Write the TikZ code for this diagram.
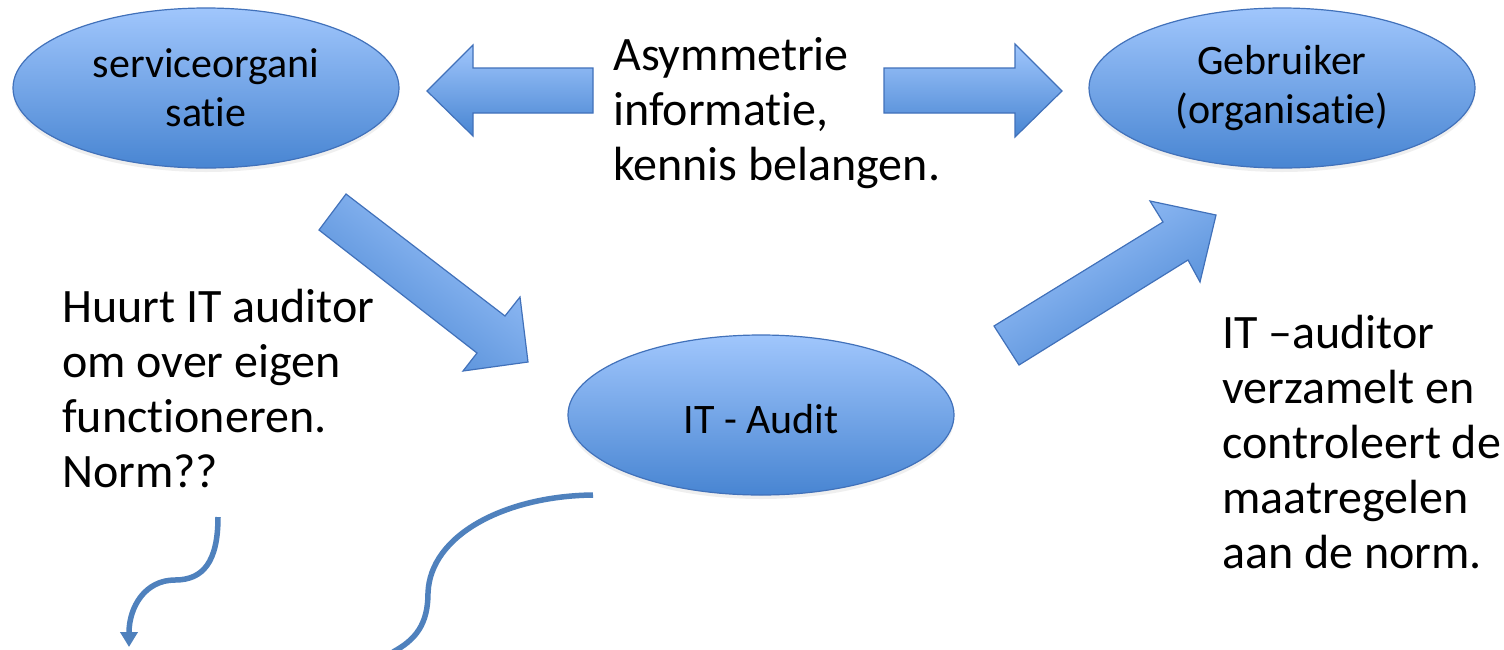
\documentclass[tikz,border=0pt]{standalone}
\usepackage{fontspec}
\setmainfont{Carlito}[Ligatures={NoCommon}]
\usetikzlibrary{shapes.geometric,arrows.meta,shadows}
\definecolor{lightb}{RGB}{160,198,252}
\definecolor{darkb}{RGB}{72,133,210}
\definecolor{edgeb}{RGB}{65,113,186}
\definecolor{curveb}{RGB}{79,129,189}
\tikzset{
 oval/.style={ellipse, draw=edgeb, line width=1.2pt, top color=lightb, bottom color=darkb,
   minimum width=386pt, minimum height=160pt, inner sep=0pt, align=center,
   font=\fontsize{42}{49}\selectfont, execute at begin node={\rule{0pt}{38pt}},
   drop shadow={opacity=0.12, shadow xshift=0pt, shadow yshift=-4pt}},
 blockarrow/.style={draw=edgeb, line width=1.2pt, line join=miter, top color=lightb, bottom color=darkb},
 txt/.style={align=left, anchor=base west, inner sep=0pt, font=\fontsize{48}{55}\selectfont},
 curve/.style={draw=curveb, line width=5.5pt},
}
\begin{document}
\begin{tikzpicture}[x=1pt,y=-1pt]
\useasboundingbox (0,0) rectangle (1504,649);
\fill[white] (0,0) rectangle (1504,649);

% ellipses
\node[oval] (svc) at (206,88) {serviceorgani\\satie};
\node[oval] (geb) at (1282,88) {Gebruiker\\(organisatie)};
\node[oval] (ita) at (761,415) {IT - Audit};

% texts (anchor = baseline of last line)
\node[txt] (asym) at (613,180) {Asymmetrie\\informatie,\\kennis belangen.};
\node[txt] (huurt) at (62,487) {Huurt IT auditor\\om over eigen\\functioneren.\\Norm??};
\node[txt] (itaud) at (1222,568) {IT –auditor\\verzamelt en\\controleert de\\maatregelen\\aan de norm.};

% block arrows
\shade[blockarrow] (593,68) -- (473,68) -- (473,45) -- (427,91) -- (473,136) -- (473,113) -- (593,113) -- cycle;
\shade[blockarrow] (884,68) -- (1015,68) -- (1015,44) -- (1062,91) -- (1015,137) -- (1015,113) -- (884,113) -- cycle;
\shade[blockarrow, shading angle=-37.5] (346,194) -- (505,316) -- (520,297) -- (528,362) -- (463,371) -- (477,353) -- (319,230) -- cycle;
\shade[blockarrow, shading angle=31.6] (994,326) -- (1163,222) -- (1150,201) -- (1216,215) -- (1200,282) -- (1188,260) -- (1019,365) -- cycle;

% curved connectors
\coordinate (c1s) at (218,517);
\coordinate (c1m) at (175,580);
\coordinate (c1e) at (129,647);
\draw[curve, -{Triangle[length=15pt,width=17pt]}] (c1s) .. controls (218,562) and (203,580) .. (c1m) .. controls (145,580) and (129,607) .. (c1e);

\coordinate (c2s) at (593,495);
\coordinate (c2m) at (428,593);
\coordinate (c2e) at (393,652);
\draw[curve] (c2s) .. controls (505,496) and (430,535) .. (c2m) .. controls (428,625) and (415,640) .. (c2e);
\end{tikzpicture}
\end{document}
